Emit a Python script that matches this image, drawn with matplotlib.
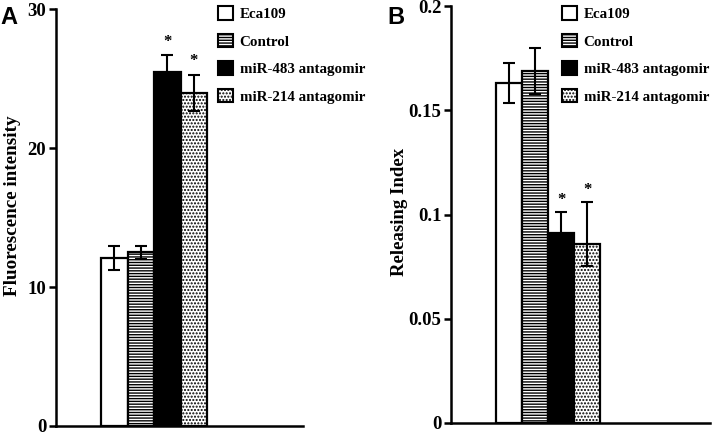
import matplotlib
matplotlib.use("Agg")
import matplotlib.pyplot as plt
from matplotlib.patches import Patch

plt.rcParams['font.family'] = ['Liberation Serif', 'DejaVu Serif']
plt.rcParams['font.weight'] = 'bold'
plt.rcParams['hatch.linewidth'] = 1.0

groups = ['Eca109', 'Control', 'miR-483 antagomir', 'miR-214 antagomir']
fills = ['white', 'white', 'black', 'white']
hatches = [None, '------', None, '.....']

# panel A: fluorescence intensity
fluo = [12.1, 12.5, 25.5, 24.0]
fluo_err = [0.9, 0.45, 1.2, 1.3]
fluo_star = [False, False, True, True]
fluo_ticks = [0, 10, 20, 30]

# panel B: releasing index
rel = [0.163, 0.169, 0.091, 0.086]
rel_err_lo = [0.0095, 0.011, 0.010, 0.0105]
rel_err_hi = [0.0095, 0.011, 0.010, 0.020]
rel_star = [False, False, True, True]
rel_ticks = [0, 0.05, 0.1, 0.15, 0.2]
rel_ticklabels = ['0', '0.05', '0.1', '0.15', '0.2']

fig = plt.figure(figsize=(7.14, 4.33), dpi=100)
axA = fig.add_axes([0.0784, 0.0162, 0.3460, 0.9619])
axB = fig.add_axes([0.6317, 0.0231, 0.3627, 0.9630])


def draw(ax, vals, lo, hi, stars, ymax, xlim, star_off):
    x = list(range(len(vals)))
    for i in x:
        ax.bar(i, vals[i], width=1.0, color=fills[i], edgecolor='black',
               linewidth=1.6, hatch=hatches[i], zorder=2)
    ax.errorbar(x, vals, yerr=[lo, hi], fmt='none', ecolor='black',
                elinewidth=1.5, capsize=4, capthick=1.5, zorder=3)
    for i in x:
        if stars[i]:
            ax.text(i, vals[i] + hi[i] + star_off, '*', ha='center', va='bottom',
                    fontsize=12, fontweight='bold')
    ax.set_xlim(*xlim)
    ax.set_ylim(0, ymax)
    ax.spines['top'].set_visible(False)
    ax.spines['right'].set_visible(False)
    ax.spines['left'].set_linewidth(1.8)
    ax.spines['bottom'].set_linewidth(1.8)
    ax.set_xticks([])
    ax.tick_params(axis='y', direction='out', length=5, width=1.8, pad=2,
                   labelsize=13.5)


draw(axA, fluo, fluo_err, fluo_err, fluo_star, 30, (-2.2, 7.12), 0.4)
axA.set_yticks(fluo_ticks)
axA.set_yticklabels([str(t) for t in fluo_ticks], fontweight='bold')
axA.set_ylabel('Fluorescence intensity', fontsize=13.8, fontweight='bold')
axA.yaxis.set_label_coords(-0.142, 0.528)

draw(axB, rel, rel_err_lo, rel_err_hi, rel_star, 0.2, (-2.23, 7.73), 0.002)
axB.set_yticks(rel_ticks)
axB.set_yticklabels(rel_ticklabels, fontweight='bold')
axB.set_ylabel('Releasing Index', fontsize=13.5, fontweight='bold')
axB.yaxis.set_label_coords(-0.166, 0.505)

handles = [Patch(facecolor=fills[i], edgecolor='black', linewidth=1.5,
                 hatch=hatches[i], label=groups[i]) for i in range(len(groups))]
for xa in (0.2904, 0.7724):
    fig.legend(handles=handles, loc='upper left', bbox_to_anchor=(xa, 1.01),
               frameon=False, handlelength=1.0, handleheight=1.0,
               handletextpad=0.45, labelspacing=0.85, borderpad=0.2,
               prop={'family': ['Liberation Serif', 'DejaVu Serif'],
                     'weight': 'bold', 'size': 10.8})

fig.text(0.0, 0.985, 'A', fontsize=17, fontweight='bold', va='top',
         family=['Liberation Sans', 'DejaVu Sans'])
fig.text(0.543, 0.985, 'B', fontsize=17, fontweight='bold', va='top',
         family=['Liberation Sans', 'DejaVu Sans'])

fig.savefig('out.png', dpi=100)
